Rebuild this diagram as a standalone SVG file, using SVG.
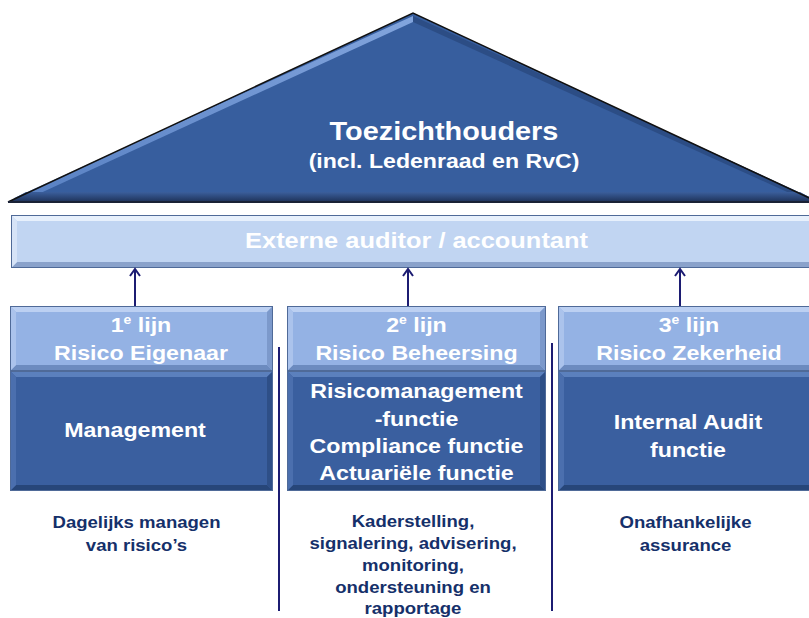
<svg xmlns="http://www.w3.org/2000/svg" width="809" height="618" viewBox="0 0 809 618">
  <style>
    .w { fill: #ffffff; font-family: "Liberation Sans", Arial, sans-serif; font-weight: bold; text-anchor: middle; }
    .n { fill: #15306a; font-family: "Liberation Sans", Arial, sans-serif; font-weight: bold; text-anchor: middle; font-size: 16px; }
    .conn { stroke: #1c1c72; stroke-width: 2; fill: none; }
    .div { stroke: #1c1c72; stroke-width: 2; }
    .hdr { fill: #94b2e4; }
    .hdr-t { fill: #bcd0f2; } .hdr-l { fill: #abc3ec; } .hdr-b { fill: #6c8bbf; } .hdr-r { fill: #7c99cb; }
    .bdy { fill: #3a5f9f; }
    .bdy-t { fill: #5b80bd; } .bdy-l { fill: #4b6fae; } .bdy-b { fill: #274679; } .bdy-r { fill: #2e4f87; }
    .band { fill: #c1d5f2; }
    .band-t { fill: #e7f0fc; } .band-l { fill: #d6e3f7; } .band-b { fill: #8aa2cb; } .band-r { fill: #a2b9de; }
    .edge { fill: none; stroke: #4f6a98; stroke-width: 1; }
  </style>
  <defs>
    <!-- open chevron head, drawn along +x so orient="auto" follows the line -->
    <marker id="arrow" markerWidth="12" markerHeight="12" refX="10" refY="6" orient="auto" markerUnits="userSpaceOnUse" viewBox="0 0 12 12">
      <path d="M3,1 L10,6 L3,11" fill="none" stroke="#1c1c72" stroke-width="2"/>
    </marker>
    <linearGradient id="triBottom" x1="0" y1="0" x2="0" y2="1">
      <stop offset="0" stop-color="#3b5f9c"/>
      <stop offset="1" stop-color="#1e3258"/>
    </linearGradient>
    <linearGradient id="triLeft" x1="0" y1="0" x2="1" y2="0">
      <stop offset="0" stop-color="#5d86c9"/>
      <stop offset="1" stop-color="#8fb1e8"/>
    </linearGradient>
  </defs>

  <!-- Supervisory roof -->
  <g id="toezichthouders">
    <polygon points="8,202 413,13 818,202" fill="#375e9e"/>
    <polygon points="14,198 413,16 413,22 34,196" fill="url(#triLeft)" opacity="0.85"/>
    <polygon points="413,16 812,198 796,196 413,22" fill="#2c4d85"/>
    <polygon points="8,202 818,202 800,192 26,192" fill="url(#triBottom)"/>
    <polyline points="8,202 413,13 818,202" fill="none" stroke="#111" stroke-width="1.5"/>
    <line x1="8" y1="202" x2="818" y2="202" stroke="#1a2236" stroke-width="2"/>
    <g transform="translate(444,0) scale(1.155,1)">
      <text class="w" x="0" y="140" font-size="25">Toezichthouders</text>
      <text class="w" x="0" y="168" font-size="20">(incl. Ledenraad en RvC)</text>
    </g>
  </g>

  <!-- External auditor band -->
  <g id="externe-auditor">
    <rect class="band" x="11" y="215" width="809" height="53"/>
    <polygon class="band-t" points="11,215 820,215 814,221 17,221"/>
    <polygon class="band-b" points="11,268 820,268 814,262 17,262"/>
    <polygon class="band-l" points="11,215 17,221 17,262 11,268"/>
    <rect class="edge" x="11.5" y="215.5" width="809" height="52"/>
    <g transform="translate(416.5,0) scale(1.155,1)">
      <text class="w" x="0" y="248" font-size="22">Externe auditor / accountant</text>
    </g>
  </g>

  <!-- Connectors: lines of defence report to the external auditor -->
  <g id="connectors">
    <line class="conn" x1="135" y1="306" x2="135" y2="269" marker-end="url(#arrow)"/>
    <line class="conn" x1="408" y1="306" x2="408" y2="269" marker-end="url(#arrow)"/>
    <line class="conn" x1="680" y1="306" x2="680" y2="269" marker-end="url(#arrow)"/>
    <line class="div" x1="279" y1="347" x2="279" y2="611"/>
    <line class="div" x1="552" y1="343" x2="552" y2="611"/>
  </g>

  <!-- 1st line -->
  <g id="lijn-1">
    <rect class="hdr" x="10" y="306" width="263" height="65"/>
    <polygon class="hdr-t" points="10,306 273,306 267,312 16,312"/>
    <polygon class="hdr-b" points="10,371 273,371 267,365 16,365"/>
    <polygon class="hdr-l" points="10,306 16,312 16,365 10,371"/>
    <polygon class="hdr-r" points="273,306 267,312 267,365 273,371"/>
    <rect class="edge" x="10.5" y="306.5" width="262" height="64"/>
    <rect class="bdy" x="10" y="371" width="263" height="120"/>
    <polygon class="bdy-t" points="10,371 273,371 267,377 16,377"/>
    <polygon class="bdy-b" points="10,491 273,491 267,485 16,485"/>
    <polygon class="bdy-l" points="10,371 16,377 16,485 10,491"/>
    <polygon class="bdy-r" points="273,371 267,377 267,485 273,491"/>
    <rect class="edge" x="10.5" y="371.5" width="262" height="119" stroke="#2a4676"/>
    <g transform="translate(141,0) scale(1.16,1)">
      <text class="w" x="0" y="332" font-size="20">1<tspan font-size="12" dy="-8">e</tspan><tspan dy="8"> lijn</tspan></text>
      <text class="w" x="0" y="360" font-size="20">Risico Eigenaar</text>
    </g>
    <g transform="translate(135,0) scale(1.16,1)">
      <text class="w" x="0" y="437" font-size="20">Management</text>
    </g>
    <g transform="translate(136.5,0) scale(1.16,1)">
      <text class="n" x="0" y="528">Dagelijks managen</text>
      <text class="n" x="0" y="551">van risico’s</text>
    </g>
  </g>

  <!-- 2nd line -->
  <g id="lijn-2">
    <rect class="hdr" x="287" y="306" width="259" height="65"/>
    <polygon class="hdr-t" points="287,306 546,306 540,312 293,312"/>
    <polygon class="hdr-b" points="287,371 546,371 540,365 293,365"/>
    <polygon class="hdr-l" points="287,306 293,312 293,365 287,371"/>
    <polygon class="hdr-r" points="546,306 540,312 540,365 546,371"/>
    <rect class="edge" x="287.5" y="306.5" width="258" height="64"/>
    <rect class="bdy" x="287" y="371" width="259" height="120"/>
    <polygon class="bdy-t" points="287,371 546,371 540,377 293,377"/>
    <polygon class="bdy-b" points="287,491 546,491 540,485 293,485"/>
    <polygon class="bdy-l" points="287,371 293,377 293,485 287,491"/>
    <polygon class="bdy-r" points="546,371 540,377 540,485 546,491"/>
    <rect class="edge" x="287.5" y="371.5" width="258" height="119" stroke="#2a4676"/>
    <g transform="translate(416.5,0) scale(1.16,1)">
      <text class="w" x="0" y="332" font-size="20">2<tspan font-size="12" dy="-8">e</tspan><tspan dy="8"> lijn</tspan></text>
      <text class="w" x="0" y="360" font-size="20">Risico Beheersing</text>
      <text class="w" x="0" y="398" font-size="20">Risicomanagement</text>
      <text class="w" x="0" y="426" font-size="20">-functie</text>
      <text class="w" x="0" y="453" font-size="20">Compliance functie</text>
      <text class="w" x="0" y="480" font-size="20">Actuariële functie</text>
    </g>
    <g transform="translate(413,0) scale(1.16,1)">
      <text class="n" x="0" y="527">Kaderstelling,</text>
      <text class="n" x="0" y="549">signalering, advisering,</text>
      <text class="n" x="0" y="571">monitoring,</text>
      <text class="n" x="0" y="593">ondersteuning en</text>
      <text class="n" x="0" y="614">rapportage</text>
    </g>
  </g>

  <!-- 3rd line -->
  <g id="lijn-3">
    <rect class="hdr" x="558" y="306" width="262" height="65"/>
    <polygon class="hdr-t" points="558,306 820,306 814,312 564,312"/>
    <polygon class="hdr-b" points="558,371 820,371 814,365 564,365"/>
    <polygon class="hdr-l" points="558,306 564,312 564,365 558,371"/>
    <rect class="edge" x="558.5" y="306.5" width="262" height="64"/>
    <rect class="bdy" x="558" y="371" width="262" height="120"/>
    <polygon class="bdy-t" points="558,371 820,371 814,377 564,377"/>
    <polygon class="bdy-b" points="558,491 820,491 814,485 564,485"/>
    <polygon class="bdy-l" points="558,371 564,377 564,485 558,491"/>
    <rect class="edge" x="558.5" y="371.5" width="262" height="119" stroke="#2a4676"/>
    <g transform="translate(689,0) scale(1.16,1)">
      <text class="w" x="0" y="332" font-size="20">3<tspan font-size="12" dy="-8">e</tspan><tspan dy="8"> lijn</tspan></text>
      <text class="w" x="0" y="360" font-size="20">Risico Zekerheid</text>
    </g>
    <g transform="translate(688,0) scale(1.16,1)">
      <text class="w" x="0" y="429" font-size="20">Internal Audit</text>
      <text class="w" x="0" y="457" font-size="20">functie</text>
    </g>
    <g transform="translate(685.5,0) scale(1.16,1)">
      <text class="n" x="0" y="528">Onafhankelijke</text>
      <text class="n" x="0" y="551">assurance</text>
    </g>
  </g>
</svg>
